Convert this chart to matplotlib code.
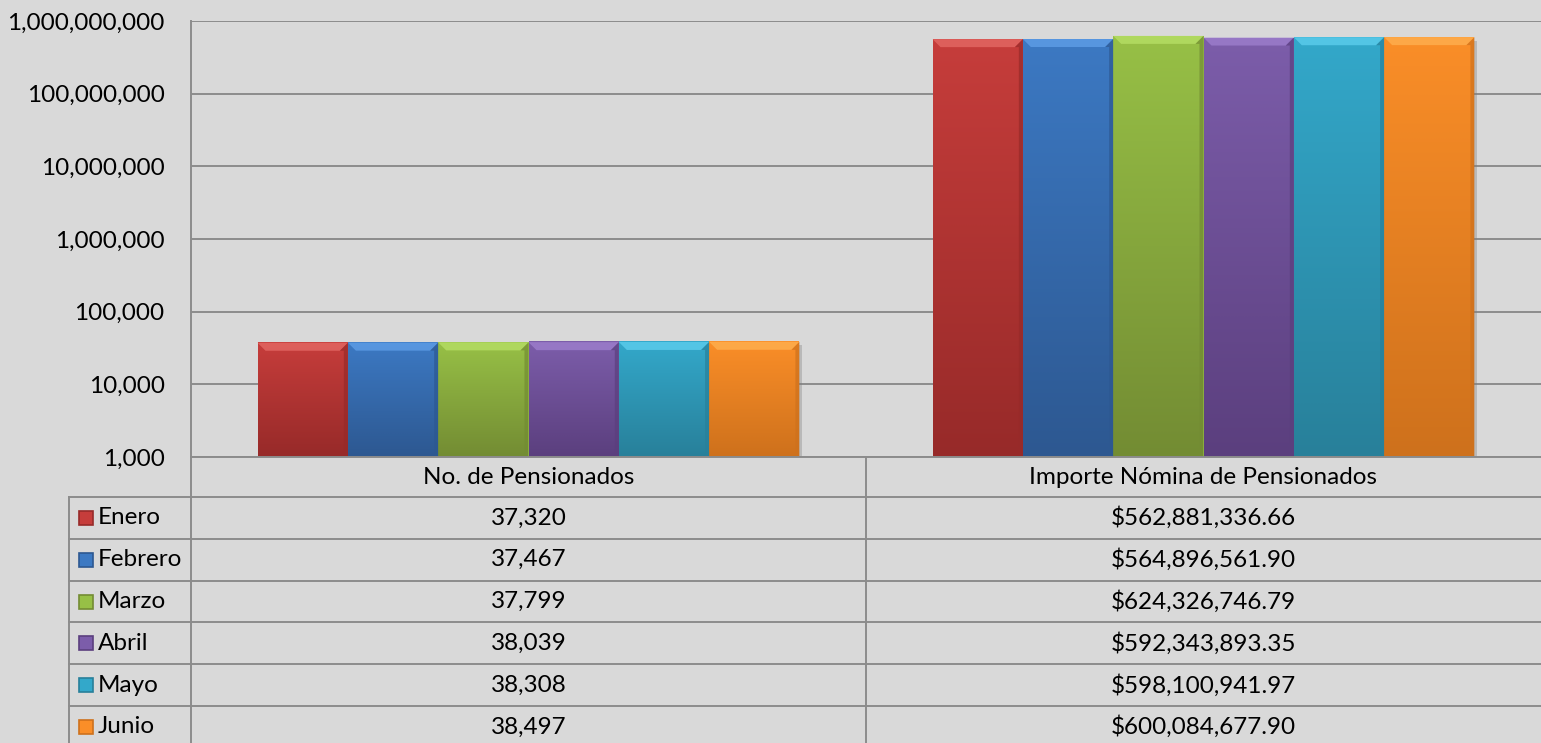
import numpy as np
import matplotlib
matplotlib.use("Agg")
import matplotlib.pyplot as plt
from matplotlib.patches import Polygon, Rectangle
from matplotlib.colors import LinearSegmentedColormap

plt.rcParams['font.family'] = ['Lato', 'DejaVu Sans']

categorias = ["No. de Pensionados", "Importe Nómina de Pensionados"]
meses = ["Enero", "Febrero", "Marzo", "Abril", "Mayo", "Junio"]
pensionados = [37320, 37467, 37799, 38039, 38308, 38497]
importe = [562881336.66, 564896561.90, 624326746.79, 592343893.35, 598100941.97, 600084677.90]
yticks = [1e3, 1e4, 1e5, 1e6, 1e7, 1e8, 1e9]

# colores (claro arriba, oscuro abajo)
top_cols = ["#C63D3B", "#3C79C3", "#97C046", "#7C5DAA", "#33A8CA", "#FA8E28"]
bot_cols = ["#972A29", "#2D5891", "#738C33", "#5B3F7E", "#28809A", "#CE711C"]
hi_cols = ["#E86E6A", "#63A3EC", "#BBE36A", "#A283D2", "#62D3F2", "#FFB455"]

BG = "#D9D9D9"
LINE = "#8C8C8C"
W, H = 1541, 743
FS = 17.5

fig = plt.figure(figsize=(W / 100, H / 100), dpi=100)
fig.patch.set_facecolor(BG)

ax = fig.add_axes([191 / W, (H - 457) / H, 1350 / W, 436 / H])
ax.set_facecolor(BG)
ax.set_yscale("log")
ax.set_ylim(1e3, 1e9)
ax.set_xlim(-0.5, 1.5)
ax.set_yticks(yticks)
ax.set_yticklabels([f"{v:,.0f}" for v in yticks], fontsize=FS)
ax.minorticks_off()
ax.tick_params(axis="y", length=0, pad=19)
ax.set_xticks([])
for s in ["top", "right", "bottom"]:
    ax.spines[s].set_visible(False)
ax.spines["left"].set_color(LINE)
ax.spines["left"].set_linewidth(1.4)
ax.grid(axis="y", color=LINE, linewidth=1.4)
ax.set_axisbelow(True)

series = np.array([pensionados, importe]).T  # filas = meses
bw = 0.1338
xtr = ax.get_xaxis_transform()
dy = 8 / 436       # bisel en fraccion de eje
dx = 8 / 675       # bisel en unidades de x
for j, mes in enumerate(meses):
    xs = np.arange(len(categorias)) + (j - 2.5) * bw
    cmap = LinearSegmentedColormap.from_list(mes, [bot_cols[j], top_cols[j]])
    for x, v in zip(xs, series[j]):
        x0, x1 = x - bw / 2, x + bw / 2
        t = (np.log10(v) - 3) / 6
        # sombra
        ax.add_patch(Rectangle((x0 + 0.004, -0.008), bw, t, transform=xtr,
                               facecolor="#7F7F7F", alpha=0.35, edgecolor="none", zorder=2))
        b = ax.bar(x, v, width=bw, bottom=1e3, color=top_cols[j], edgecolor="none", zorder=3)[0]
        grad = np.linspace(0, 1, 256).reshape(-1, 1)
        im = ax.imshow(grad, extent=[x0, x1, 0, t], transform=xtr, origin="lower",
                       cmap=cmap, aspect="auto", zorder=3.5, interpolation="bilinear")
        im.set_clip_path(b)
        ax.add_patch(Polygon([(x0, t), (x1, t), (x1 - dx, t - dy), (x0 + dx, t - dy)],
                             closed=True, transform=xtr, facecolor=hi_cols[j],
                             edgecolor="none", alpha=0.7, zorder=4))
        ax.add_patch(Polygon([(x1 - 0.006, 0), (x1, 0), (x1, t), (x1 - dx, t - dy), (x1 - 0.006, t - dy)],
                             closed=True, transform=xtr, facecolor=bot_cols[j],
                             edgecolor="none", alpha=0.7, zorder=4))
ax.set_xlim(-0.5, 1.5)

# tabla de datos (coordenadas en pixeles)
tab = fig.add_axes([0, 0, 1, 1])
tab.set_xlim(0, W)
tab.set_ylim(H, 0)
tab.axis("off")
tab.patch.set_alpha(0)

col_x = [69, 191, 866, 1541]
row_h = 41.8
hdr_top, hdr_bot = 457, 497
tab.plot([191, W], [hdr_top, hdr_top], color=LINE, lw=1.4)
for i in range(len(meses) + 1):
    y = hdr_bot + i * row_h
    tab.plot([69, W], [y, y], color=LINE, lw=1.4)
tab.plot([69, 69], [hdr_bot, H + 10], color=LINE, lw=1.4)
tab.plot([191, 191], [hdr_top, H + 10], color=LINE, lw=1.4)
tab.plot([866, 866], [hdr_top, H + 10], color=LINE, lw=1.4)

for k, cat in enumerate(categorias):
    cx = (col_x[k + 1] + col_x[k + 2]) / 2
    tab.text(cx, (hdr_top + hdr_bot) / 2, cat, ha="center", va="center", fontsize=FS)

for j, mes in enumerate(meses):
    cy = hdr_bot + (j + 0.5) * row_h
    tab.add_patch(Rectangle((79, cy - 7), 14, 14, facecolor=top_cols[j],
                            edgecolor=bot_cols[j], lw=1.2))
    tab.text(98, cy, mes, ha="left", va="center", fontsize=FS)
    tab.text((191 + 866) / 2, cy, f"{pensionados[j]:,}", ha="center", va="center", fontsize=FS)
    tab.text((866 + W) / 2, cy, f"${importe[j]:,.2f}", ha="center", va="center", fontsize=FS)

fig.savefig("out.png", dpi=100, facecolor=BG)
